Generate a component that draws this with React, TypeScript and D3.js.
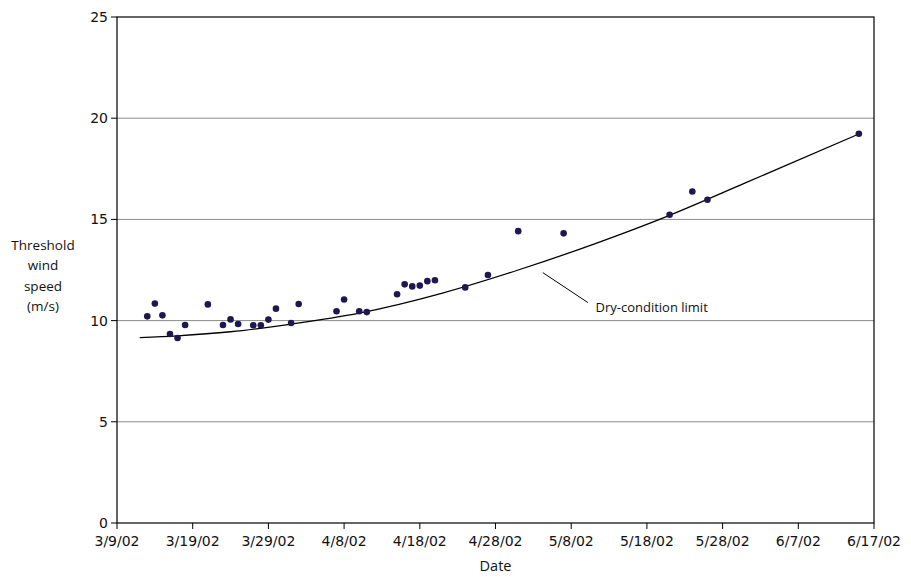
import React from "react";
import * as d3 from "d3";

const pointDates = ["3/13/02","3/14/02","3/15/02","3/16/02","3/17/02","3/18/02","3/21/02","3/23/02","3/24/02","3/25/02","3/27/02","3/28/02","3/29/02","3/30/02","4/1/02","4/2/02","4/7/02","4/8/02","4/10/02","4/11/02","4/15/02","4/16/02","4/17/02","4/18/02","4/19/02","4/20/02","4/24/02","4/27/02","5/1/02","5/7/02","5/21/02","5/24/02","5/26/02","6/15/02"];
const pointValues = [10.21,10.84,10.26,9.34,9.14,9.78,10.8,9.78,10.06,9.83,9.77,9.77,10.05,10.59,9.88,10.82,10.46,11.04,10.46,10.42,11.3,11.79,11.69,11.73,11.95,11.99,11.64,12.25,14.42,14.31,15.23,16.38,15.97,19.23];

const limitDates = ["3/12/02","3/17/02","3/24/02","4/1/02","4/10/02","4/21/02","5/1/02","5/11/02","5/21/02","5/31/02","6/15/02"];
const limitValues = [9.16,9.25,9.45,9.83,10.37,11.36,12.5,13.78,15.2,16.8,19.22];

const yTicks = [0, 5, 10, 15, 20, 25];
const xStart = "3/9/02";
const xEnd = "6/17/02";
const tickStepDays = 10;

const yTitle = ["Threshold", "wind", "speed", "(m/s)"];
const xTitle = "Date";
const annotationText = "Dry-condition limit";

const parse = d3.timeParse("%m/%d/%y");
const fmt = d3.timeFormat("%-m/%-d/%y");

export default function App() {
  const W = 911, H = 577;
  const left = 117, right = 874, top = 17, bottom = 523;
  const d0 = parse(xStart)!;
  const d1 = parse(xEnd)!;
  const x = d3.scaleTime().domain([d0, d1]).range([left, right]);
  const y = d3.scaleLinear().domain([0, 25]).range([bottom, top]);
  const xTicks = d3.timeDay.range(d0, d3.timeDay.offset(d1, 1), tickStepDays);

  const limitPts: [Date, number][] = limitDates.map((d, i) => [parse(d)!, limitValues[i]]);
  const line = d3.line<[Date, number]>().x(d => x(d[0])).y(d => y(d[1])).curve(d3.curveMonotoneX);

  const annoStart = d3.timeHour.offset(parse("5/4/02")!, 6);
  const annoEnd = d3.timeHour.offset(parse("5/10/02")!, 5);
  const annoText = d3.timeHour.offset(parse("5/11/02")!, 5);

  return (
    <svg width={W} height={H} style={{ position: "absolute", left: 0, top: 0, background: "#fff" }}>
      {yTicks.filter(t => t > 0 && t < 25).map(t => (
        <line key={"g" + t} x1={left} x2={right} y1={y(t)} y2={y(t)} stroke="#8c8c8c" strokeWidth={1} />
      ))}
      <rect x={left} y={top} width={right - left} height={bottom - top} fill="none" stroke="#000" strokeWidth={1.2} />
      {yTicks.map(t => (
        <g key={"y" + t}>
          <line x1={left - 6} x2={left} y1={y(t)} y2={y(t)} stroke="#000" strokeWidth={1} />
          <text x={left - 9} y={y(t)} dy="0.36em" textAnchor="end" fontFamily="DejaVu Sans" fontSize={14} fill="#111">{t}</text>
        </g>
      ))}
      {xTicks.map((t, i) => (
        <g key={"x" + i}>
          <line x1={x(t)} x2={x(t)} y1={bottom} y2={bottom + 6} stroke="#000" strokeWidth={1} />
          <text x={x(t)} y={bottom + 23} textAnchor="middle" fontFamily="DejaVu Sans" fontSize={14} fill="#111">{fmt(t)}</text>
        </g>
      ))}
      <path d={line(limitPts) || ""} fill="none" stroke="#000" strokeWidth={1.3} />
      {pointDates.map((d, i) => (
        <circle key={"p" + i} cx={x(parse(d)!)} cy={y(pointValues[i])} r={3.3} fill="#1e1850" />
      ))}
      <line x1={x(annoStart)} y1={y(12.37)} x2={x(annoEnd)} y2={y(10.89)} stroke="#000" strokeWidth={1} />
      <text x={x(annoText)} y={y(10.42)} fontFamily="Open Sans" fontSize={13} fill="#111">{annotationText}</text>
      <text fontFamily="Open Sans" fontSize={13.5} fill="#111" textAnchor="middle">
        {yTitle.map((s, i) => (
          <tspan key={s} x={43} y={250 + i * 20.3}>{s}</tspan>
        ))}
      </text>
      <text x={(left + right) / 2} y={571} textAnchor="middle" fontFamily="Open Sans" fontSize={14.5} fill="#111">{xTitle}</text>
    </svg>
  );
}
